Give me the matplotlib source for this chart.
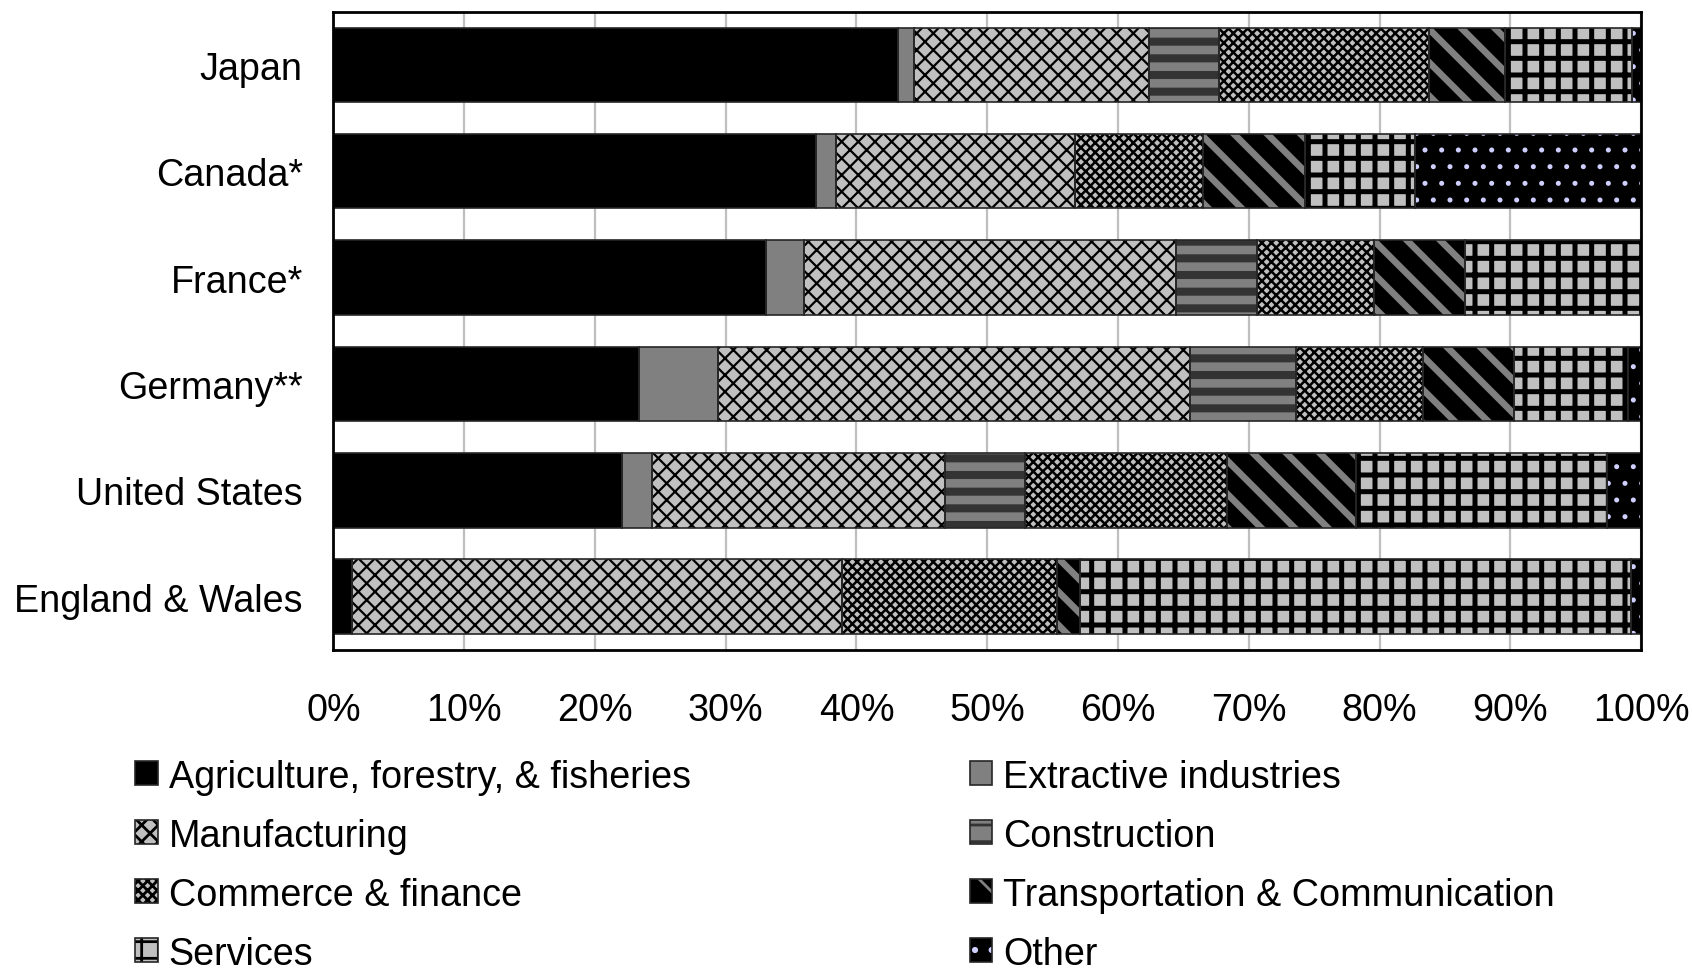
import matplotlib
matplotlib.use("Agg")
import matplotlib.pyplot as plt
import numpy as np
from matplotlib.legend_handler import HandlerTuple

countries = ["Japan", "Canada*", "France*", "Germany**", "United States", "England & Wales"]
sectors = ["Agriculture, forestry, & fisheries", "Extractive industries", "Manufacturing",
           "Construction", "Commerce & finance", "Transportation & Communication",
           "Services", "Other"]

agriculture   = [43.2, 36.9, 33.1, 23.4, 22.1, 1.4]
extractive    = [1.2, 1.5, 2.9, 6.0, 2.3, 0.0]
manufacturing = [18.0, 18.3, 28.4, 36.1, 22.4, 37.5]
construction  = [5.3, 0.0, 6.2, 8.1, 6.1, 0.0]
commerce      = [16.1, 9.8, 9.0, 9.7, 15.4, 16.4]
transport     = [5.8, 7.8, 6.9, 7.0, 9.9, 1.8]
services      = [9.7, 8.4, 13.5, 8.7, 19.2, 42.1]
other         = [0.7, 17.3, 0.0, 1.0, 2.6, 0.8]

series = [agriculture, extractive, manufacturing, construction, commerce, transport, services, other]

# (facecolor, hatch, hatchcolor, hatch linewidth)
styles = [
    ("#000000", None, "#000000", 1.0),
    ("#808080", None, "#808080", 1.0),
    ("#c0c0c0", "xxxx", "#000000", 0.8),
    ("#808080", "--", "#333333", 2.9),
    ("#c0c0c0", "xxxxxxx", "#000000", 0.9),
    ("#000000", "\\\\", "#808080", 2.4),
    ("#c0c0c0", "++", "#000000", 1.8),
    ("#000000", "..", "#d0d0ff", 0.6),
]

plt.rcParams['font.family'] = ['Liberation Sans', 'DejaVu Sans']
FS = 13.6

fig = plt.figure(figsize=(8.46, 4.85), dpi=200)
ax = fig.add_axes([0.197, 0.329, 0.773, 0.658])

y = np.arange(len(countries))
left = np.zeros(len(countries))
handles = []
for vals, (fc, h, hc, hlw) in zip(series, styles):
    vals = np.array(vals, dtype=float)
    c1 = ax.barh(y, vals, left=left, height=0.70, color=fc, edgecolor=hc,
                 hatch=h, linewidth=0, zorder=3)
    for p in c1.patches:
        if hasattr(p, "set_hatch_linewidth"):
            p.set_hatch_linewidth(hlw)
        p._hatch_linewidth = hlw
    c2 = ax.barh(y, vals, left=left, height=0.70, fill=False,
                 edgecolor="#262626", linewidth=0.6, zorder=4)
    left = left + vals
    handles.append((c1.patches[0], c2.patches[0]))

ax.set_xlim(0, 100)
ax.set_ylim(len(countries) - 0.5, -0.5)
ax.set_yticks(y)
ax.set_yticklabels(countries, fontsize=FS)
ax.set_xticks(np.arange(0, 101, 10))
ax.set_xticklabels([f"{v}%" for v in range(0, 101, 10)], fontsize=FS)
ax.tick_params(axis='both', length=0)
ax.tick_params(axis='y', pad=11)
ax.tick_params(axis='x', pad=15)
ax.grid(axis='x', color='#bfbfbf', linewidth=0.8, zorder=0)
ax.set_axisbelow(True)
for s in ax.spines.values():
    s.set_linewidth(1.0)
    s.set_color('black')
    s.set_zorder(5)

col1 = [0, 2, 4, 6]
col2 = [1, 3, 5, 7]
common = dict(frameon=False, fontsize=FS, handlelength=0.6, handleheight=0.6,
              handletextpad=0.28, labelspacing=0.61, borderpad=0, borderaxespad=0,
              loc='upper left', handler_map={tuple: HandlerTuple(ndivide=1)})
leg1 = fig.legend([handles[i] for i in col1], [sectors[i] for i in col1],
                  bbox_to_anchor=(0.080, 0.217), **common)
leg2 = fig.legend([handles[i] for i in col2], [sectors[i] for i in col2],
                  bbox_to_anchor=(0.573, 0.217), **common)

fig.savefig("out.png", dpi=200)
